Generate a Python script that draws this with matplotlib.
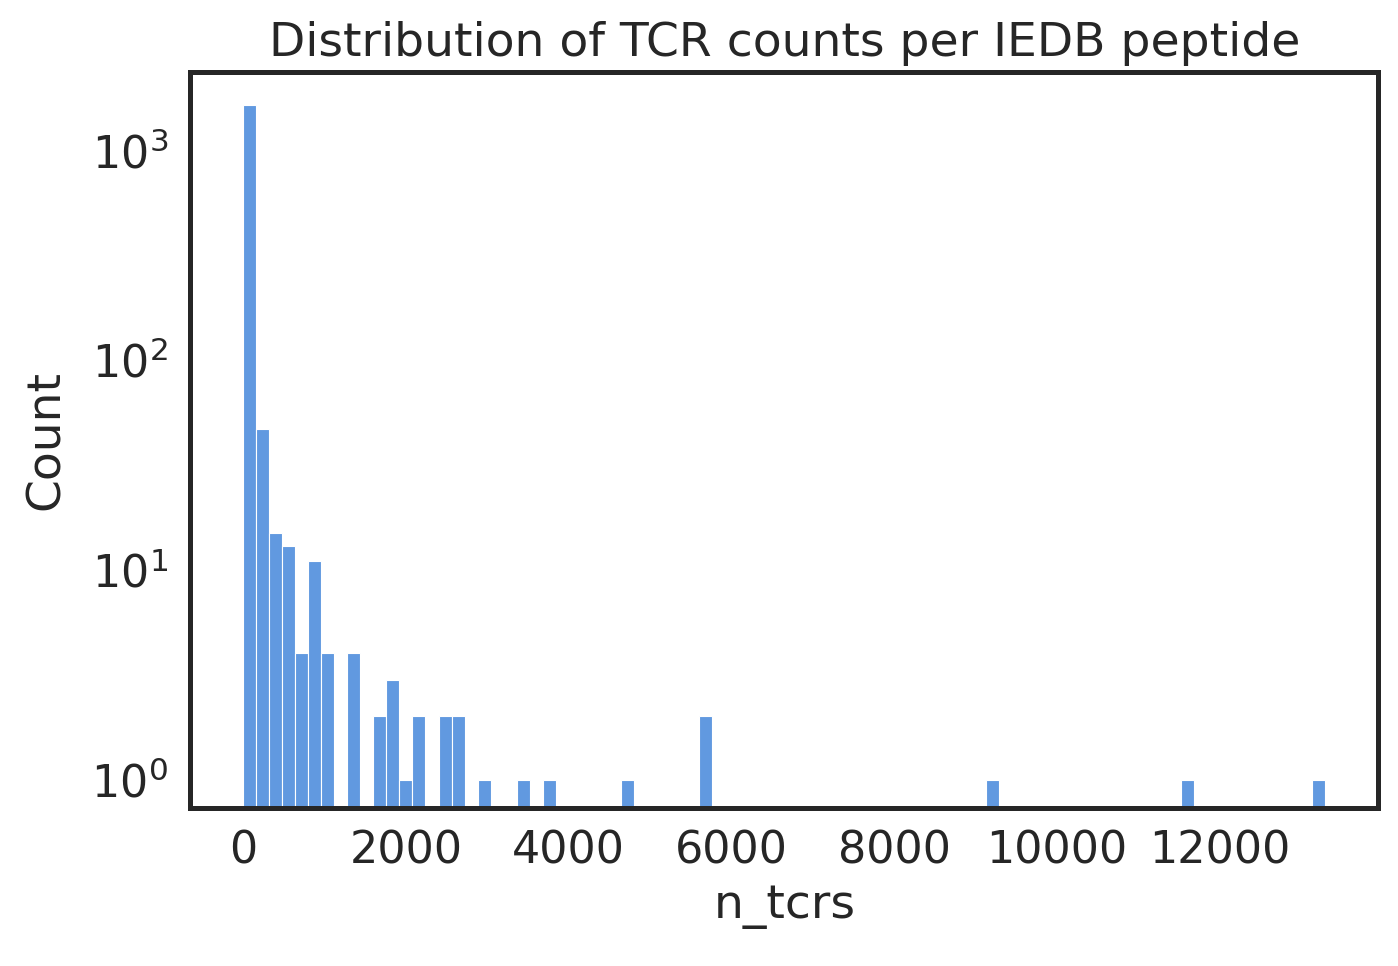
import matplotlib
matplotlib.use("Agg")
import matplotlib.pyplot as plt
import numpy as np

# histogram: bin index -> count (83 bins from 0 to ~13290)
n_bins = 83
x_max = 13290
bin_idx = [0, 1, 2, 3, 4, 5, 6, 8, 10, 11, 12, 13, 15, 16, 18, 21, 23, 29, 35, 57, 72, 82]
counts = [1650, 47, 15, 13, 4, 11, 4, 4, 2, 3, 1, 2, 2, 2, 1, 1, 1, 1, 2, 1, 1, 1]

edges = np.linspace(0, x_max, n_bins + 1)
width = edges[1] - edges[0]
centers = [edges[i] + width / 2 for i in bin_idx]

plt.rcParams['font.family'] = ['DejaVu Sans']
fig, ax = plt.subplots(figsize=(6.99, 4.83), dpi=200)
ax.hist(centers, bins=edges, weights=counts, color='#6199e0', edgecolor='white', linewidth=0.4)
ax.set_yscale('log')
ax.set_ylim(0.736, 2350)
ax.set_xlim(-650, 13950)
ax.set_xticks([0, 2000, 4000, 6000, 8000, 10000, 12000])
ax.tick_params(labelsize=16, colors='#262626', length=0, which='both', pad=8)
ax.set_xlabel('n_tcrs', fontsize=17, color='#262626')
ax.set_ylabel('Count', fontsize=17, color='#262626', labelpad=8)
ax.set_title('Distribution of TCR counts per IEDB peptide', fontsize=17, color='#262626', pad=6)
for s in ax.spines.values():
    s.set_linewidth(1.8)
    s.set_color('#262626')
fig.subplots_adjust(left=0.136, right=0.986, top=0.925, bottom=0.164)
fig.savefig('out.png')
